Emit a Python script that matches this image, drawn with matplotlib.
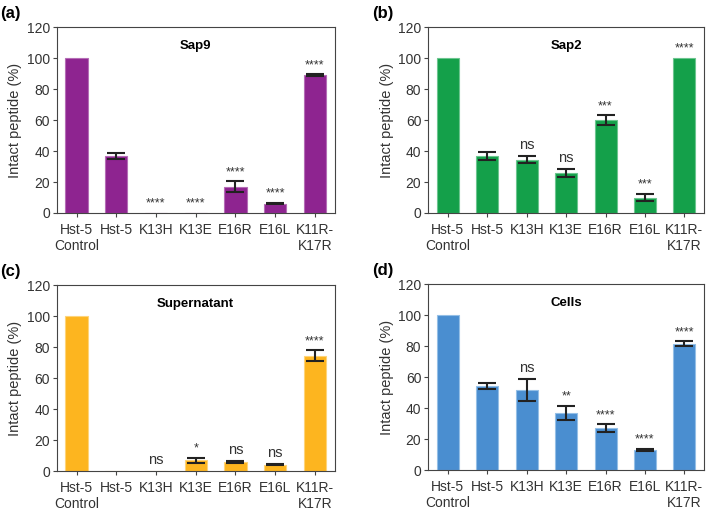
import numpy as np
import matplotlib
matplotlib.use("Agg")
import matplotlib.pyplot as plt

plt.rcParams['font.family'] = ['Liberation Sans', 'DejaVu Sans']

labels = ['Hst-5\nControl', 'Hst-5', 'K13H', 'K13E', 'E16R', 'E16L', 'K11R-\nK17R']

sap9 = [100, 37, 0, 0, 17, 6, 89]
sap9_err = [0, 2, 0, 0, 3.5, 0.5, 0.6]
sap9_sig = ['', '', '****', '****', '****', '****', '****']

sap2 = [100, 37, 34.5, 26, 60, 10, 100]
sap2_err = [0, 2.5, 2.5, 2.5, 3, 2.5, 0]
sap2_sig = ['', '', 'ns', 'ns', '***', '***', '****']

sup = [100, 0, 0, 7, 6, 4, 74.5]
sup_err = [0, 0, 0, 1.5, 0.6, 0.4, 3.5]
sup_sig = ['', '', 'ns', '*', 'ns', 'ns', '****']

cells = [100, 54.5, 51.5, 37, 27, 13, 81.5]
cells_err = [0, 2, 7, 4.5, 2.5, 0.5, 1.5]
cells_sig = ['', '', 'ns', '**', '****', '****', '****']

panels = [
    ('(a)', 'Sap9', sap9, sap9_err, sap9_sig, '#8E2490', '#B56DB6'),
    ('(b)', 'Sap2', sap2, sap2_err, sap2_sig, '#14A04A', '#6CC58F'),
    ('(c)', 'Supernatant', sup, sup_err, sup_sig, '#FDB51F', '#FED47A'),
    ('(d)', 'Cells', cells, cells_err, cells_sig, '#4A8ED0', '#94BFE6'),
]

fig = plt.figure(figsize=(7.09, 5.12), dpi=100)
rects = [
    [0.080, 0.584, 0.392, 0.363],
    [0.604, 0.584, 0.389, 0.363],
    [0.080, 0.080, 0.392, 0.363],
    [0.604, 0.082, 0.389, 0.363],
]

for (tag, title, vals, errs, sig, col, edge), r in zip(panels, rects):
    ax = fig.add_axes(r)
    x = np.arange(len(vals))
    ax.bar(x, vals, width=0.56, color=col, edgecolor=edge, linewidth=0.8)
    ex = [i for i in x if errs[i] > 0]
    ax.errorbar(ex, [vals[i] for i in ex], yerr=[errs[i] for i in ex],
                fmt='none', ecolor='#222222', elinewidth=1.5, capsize=6.5, capthick=1.5)
    for i, s in enumerate(sig):
        if not s:
            continue
        top = vals[i] + errs[i]
        if s == 'ns':
            ax.text(i, top + 4.5, s, ha='center', va='baseline', fontsize=10.5, color='#333333')
        else:
            ax.text(i, top + 4, s, ha='center', va='baseline', fontsize=9, color='#333333')
    ax.set_xlim(-0.5, 6.5)
    ax.set_ylim(0, 120)
    ax.set_yticks(range(0, 121, 20))
    ax.set_xticks(x)
    ax.set_xticklabels(labels, fontsize=10, color='#333333')
    ax.tick_params(axis='y', labelsize=10, labelcolor='#333333', length=3, color='#444444', pad=2)
    ax.tick_params(axis='x', length=3, color='#444444', pad=4)
    for sp in ax.spines.values():
        sp.set_color('#444444')
        sp.set_linewidth(0.8)
    ax.set_ylabel('Intact peptide (%)', fontsize=10.5, color='#333333', labelpad=3)
    ax.text(0.5, 0.93, title, transform=ax.transAxes, ha='center', va='top',
            fontsize=9.5, fontweight='bold')
    ax.text(-0.205, 1.075, tag, transform=ax.transAxes, ha='left', va='center',
            fontsize=12, fontweight='bold')

fig.savefig('out.png', dpi=100)
